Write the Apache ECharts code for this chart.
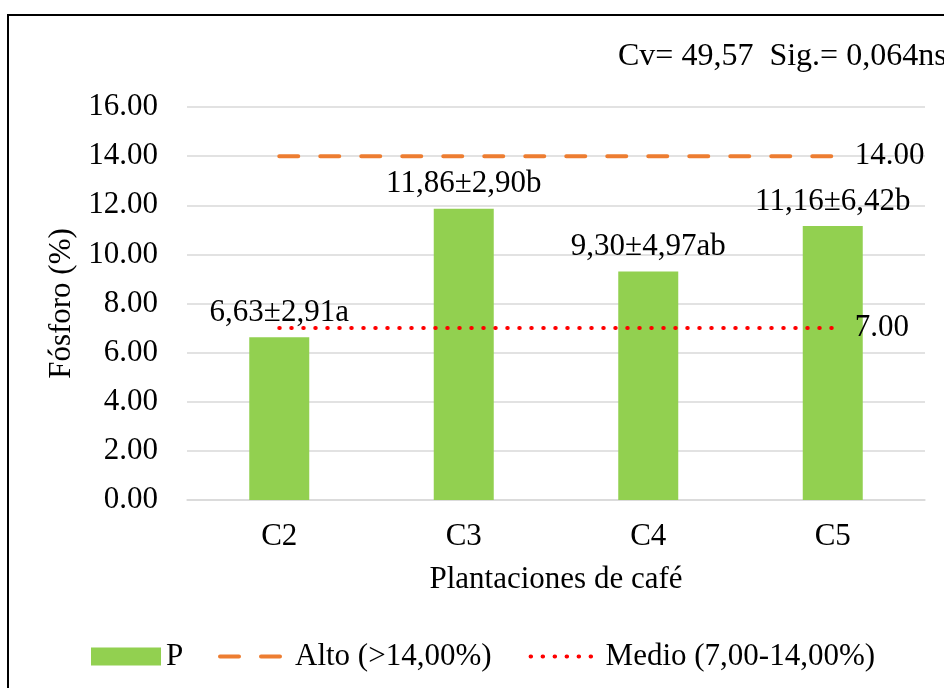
<!DOCTYPE html>
<html>
<head>
<meta charset="utf-8">
<script src="https://cdn.jsdelivr.net/npm/echarts@6/dist/echarts.min.js"></script>
<style>html,body{margin:0;padding:0;background:#fff}#c{width:944px;height:688px}</style>
</head>
<body>
<div id="c"></div>
<script>
var categories = ['C2', 'C3', 'C4', 'C5'];
var pValues = [6.63, 11.86, 9.30, 11.16];
var pLabels = ['6,63±2,91a', '11,86±2,90b', '9,30±4,97ab', '11,16±6,42b'];
var altoValues = [14, 14, 14, 14];
var medioValues = [7, 7, 7, 7];
var yTicks = { min: 0, max: 16, interval: 2 };
var seriesNames = ['P', 'Alto (>14,00%)', 'Medio (7,00-14,00%)'];
var statsText = 'Cv= 49,57  Sig.= 0,064ns';

var FONT = '"Liberation Serif", "Times New Roman", serif';
var FS = 31;
var altoLine = { color: '#ED7D31', width: 4, type: [19, 22], cap: 'round' };
var medioLine = { color: '#FF0000', width: 4, type: [0.5, 11.5], cap: 'round' };
var legendText = { fontFamily: FONT, fontSize: FS, color: '#000' };

var chart = echarts.init(document.getElementById('c'), null, { renderer: 'canvas' });
chart.setOption({
  backgroundColor: '#fff',
  animation: false,
  textStyle: { fontFamily: FONT, color: '#000' },
  grid: { left: 187, right: 19, top: 107, bottom: 188, containLabel: false },
  graphic: [
    { type: 'rect', shape: { x: 8, y: 15, width: 1000, height: 1000 },
      style: { fill: 'none', stroke: '#000', lineWidth: 2 } },
    { type: 'text', x: 618, y: 57,
      style: { text: statsText, font: '32px ' + FONT, fill: '#000', textVerticalAlign: 'middle' } }
  ],
  legend: [
    {
      left: 91, top: 641, padding: 0, itemWidth: 70, itemHeight: 18,
      textStyle: legendText,
      data: [{ name: seriesNames[0], icon: 'rect' }]
    },
    {
      left: 218, top: 641, padding: 0, itemWidth: 70, itemHeight: 18, itemGap: 37,
      textStyle: legendText,
      data: [
        { name: seriesNames[1], itemStyle: { opacity: 0 }, lineStyle: altoLine },
        { name: seriesNames[2], itemStyle: { opacity: 0 }, lineStyle: medioLine }
      ]
    }
  ],
  xAxis: {
    type: 'category', data: categories,
    name: 'Plantaciones de café', nameLocation: 'middle', nameGap: 64,
    nameTextStyle: { fontFamily: FONT, fontSize: FS, color: '#000' },
    axisLine: { lineStyle: { color: '#d9d9d9', width: 1.5 } },
    axisTick: { show: false },
    axisLabel: { fontFamily: FONT, fontSize: FS, color: '#000', margin: 21 }
  },
  yAxis: {
    type: 'value', min: yTicks.min, max: yTicks.max, interval: yTicks.interval,
    name: 'Fósforo (%)', nameLocation: 'middle', nameGap: 103,
    nameTextStyle: { fontFamily: FONT, fontSize: FS, color: '#000' },
    axisLine: { show: false }, axisTick: { show: false },
    splitLine: { lineStyle: { color: '#d9d9d9', width: 1.5 } },
    axisLabel: { fontFamily: FONT, fontSize: FS, color: '#000', margin: 29,
      formatter: function (v) { return v.toFixed(2); } }
  },
  series: [
    { name: seriesNames[0], type: 'bar', barWidth: 60, data: pValues,
      itemStyle: { color: '#92D050' },
      label: { show: true, position: 'top', distance: 9, fontFamily: FONT, fontSize: FS, color: '#000',
        formatter: function (p) { return pLabels[p.dataIndex]; } } },
    { name: seriesNames[1], type: 'line', data: altoValues, symbol: 'none', z: 3,
      itemStyle: { color: '#ED7D31' },
      lineStyle: altoLine,
      endLabel: { show: true, distance: 22, fontFamily: FONT, fontSize: FS, color: '#000',
        formatter: function (p) { return p.value.toFixed(2); } } },
    { name: seriesNames[2], type: 'line', data: medioValues, symbol: 'none', z: 3,
      itemStyle: { color: '#FF0000' },
      lineStyle: medioLine,
      endLabel: { show: true, distance: 22, fontFamily: FONT, fontSize: FS, color: '#000',
        formatter: function (p) { return p.value.toFixed(2); } } }
  ]
});
</script>
</body>
</html>
